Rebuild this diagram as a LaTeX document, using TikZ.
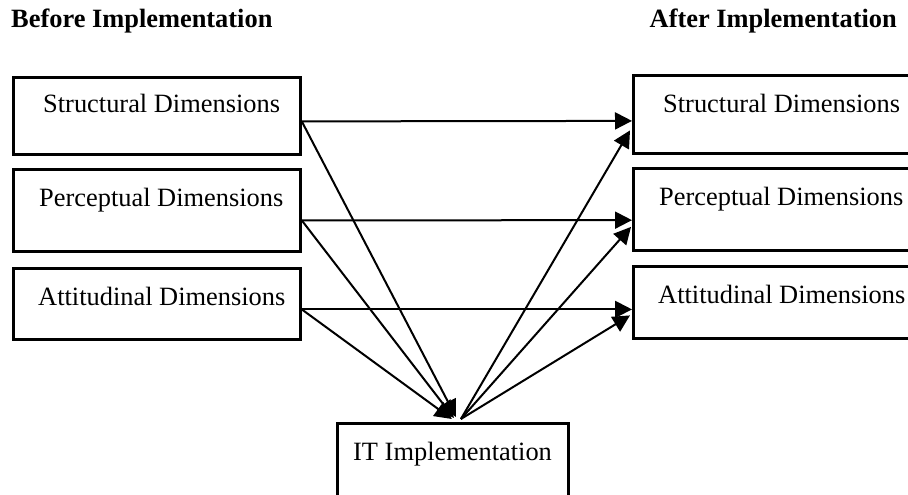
\documentclass[tikz,border=0pt]{standalone}
\usepackage{fontspec}
\setmainfont{Liberation Serif}
\usetikzlibrary{arrows.meta}

\begin{document}
\begin{tikzpicture}[x=1pt, y=-1pt,
	dimbox/.style={draw, line width=2.8pt, anchor=north west, inner sep=0pt},
	dimtext/.style={anchor=base west, inner sep=0pt, font=\fontsize{26.4}{30}\selectfont},
	heading/.style={inner sep=0pt, font=\fontsize{26.4}{30}\selectfont\bfseries},
	link/.style={line width=2pt, -{Triangle[length=17pt,width=17pt]}}]
\useasboundingbox (0,0) rectangle (908,495);
\clip (0,0) rectangle (908,495);

\node[heading, anchor=base west] (before) at (11,28) {Before Implementation};
\node[heading, anchor=base east] (after) at (897,28) {After Implementation};

% before implementation
\node[dimbox, minimum width=287pt, minimum height=77pt] (sdb) at (12,76) {};
\node[dimbox, minimum width=287pt, minimum height=82pt] (pdb) at (12,168) {};
\node[dimbox, minimum width=287pt, minimum height=71pt] (adb) at (12,267) {};
\node[dimtext] (sdbt) at (43,113) {Structural Dimensions};
\node[dimtext] (pdbt) at (39,206) {Perceptual Dimensions};
\node[dimtext] (adbt) at (38,305) {Attitudinal Dimensions};

% after implementation
\node[dimbox, minimum width=320pt, minimum height=78pt] (sda) at (632,74) {};
\node[dimbox, minimum width=320pt, minimum height=82pt] (pda) at (632,167) {};
\node[dimbox, minimum width=320pt, minimum height=72pt] (ada) at (632,265) {};
\node[dimtext] (sdat) at (663,112) {Structural Dimensions};
\node[dimtext] (pdat) at (659,205) {Perceptual Dimensions};
\node[dimtext] (adat) at (658,303) {Attitudinal Dimensions};

% IT implementation
\node[dimbox, minimum width=231pt, minimum height=120pt] (itb) at (336,422) {};
\node[dimtext] (itt) at (353,460) {IT Implementation};

% straight through
\draw[link] ([yshift=-5.5pt]sdb.east) -- ([yshift=-6.5pt]sda.west);
\draw[link] ([yshift=-10pt]pdb.east) -- ([yshift=-10.75pt]pda.west);
\draw[link] ([yshift=-5.5pt]adb.east) -- ([yshift=-7pt]ada.west);

% into IT
\draw[link] ([yshift=-5.5pt]sdb.east) -- ([xshift=3pt,yshift=5pt]itb.north);
\draw[link] ([yshift=-10pt]pdb.east) -- ([xshift=1pt,yshift=4pt]itb.north);
\draw[link] ([yshift=-5.5pt]adb.east) -- ([xshift=-1pt,yshift=3pt]itb.north);

% out of IT
\draw[link] ([xshift=8pt,yshift=3pt]itb.north) -- ([xshift=-2pt,yshift=-16pt]sda.west);
\draw[link] ([xshift=8pt,yshift=3pt]itb.north) -- ([xshift=-1pt,yshift=-17.5pt]pda.west);
\draw[link] ([xshift=8pt,yshift=3pt]itb.north) -- ([xshift=-2pt,yshift=-13pt]ada.west);
\end{tikzpicture}
\end{document}
